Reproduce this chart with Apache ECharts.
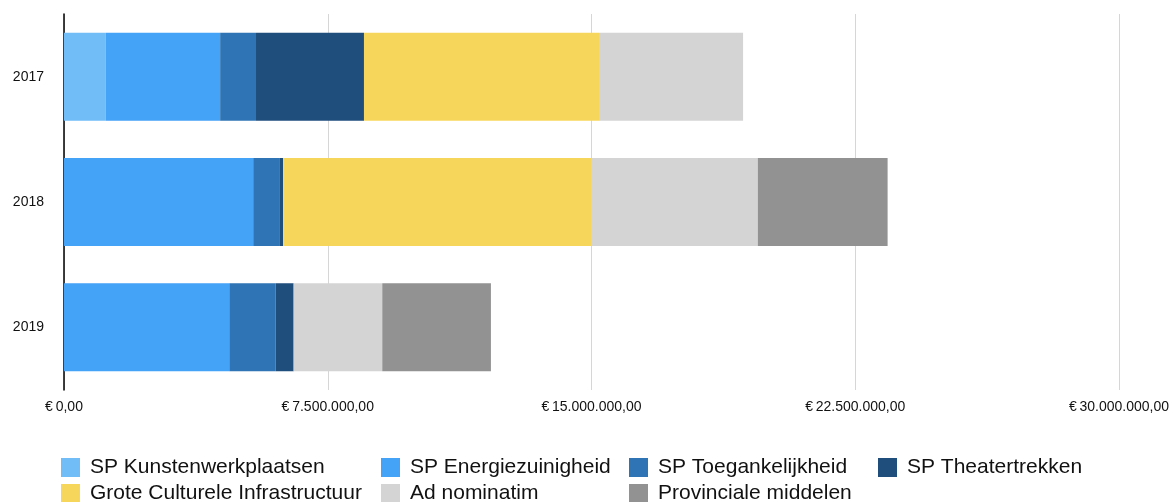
<!DOCTYPE html>
<html>
<head>
<meta charset="utf-8">
<script src="https://cdn.jsdelivr.net/npm/echarts@6/dist/echarts.min.js"></script>
<style>
  html, body { margin: 0; padding: 0; background: #fff; }
  #main { width: 1175px; height: 502px; }
</style>
</head>
<body>
<div id="main"></div>
<script>
// jaren (categorieën)
var years = ['2017', '2018', '2019'];

// bedragen per subsidielijn, in euro
var kunstenwerkplaatsen = [1190000, 0, 0];
var energiezuinigheid = [3250000, 5380000, 4700000];
var toegankelijkheid = [1020000, 760000, 1320000];
var theatertrekken = [3070000, 90000, 510000];
var groteCultureleInfra = [6710000, 8770000, 0];
var adNominatim = [4070000, 4730000, 2520000];
var provincialeMiddelen = [0, 3690000, 3090000];

// waarden op de x-as
var xTicks = [0, 7500000, 15000000, 22500000, 30000000];

var seriesDefs = [
    { name: 'SP Kunstenwerkplaatsen', data: kunstenwerkplaatsen, color: '#70bdf8' },
    { name: 'SP Energiezuinigheid', data: energiezuinigheid, color: '#44a2f7' },
    { name: 'SP Toegankelijkheid', data: toegankelijkheid, color: '#2f75b5' },
    { name: 'SP Theatertrekken', data: theatertrekken, color: '#1f4d7c' },
    { name: 'Grote Culturele Infrastructuur', data: groteCultureleInfra, color: '#f7d75b' },
    { name: 'Ad nominatim', data: adNominatim, color: '#d4d4d4' },
    { name: 'Provinciale middelen', data: provincialeMiddelen, color: '#929292' }
];

// euro-notatie zoals "€ 7.500.000,00"
function euro(v) {
    var parts = Math.round(v).toString().replace(/\B(?=(\d{3})+(?!\d))/g, '.');
    return '€\u2009' + parts + ',00';
}

var myChart = echarts.init(document.getElementById('main'));

var legendText = {
    fontSize: 21,
    color: '#111',
    fontFamily: 'Liberation Sans, Arial, sans-serif',
    padding: [0, 0, 0, 5]
};
// één legenda per kolom, zodat de kolommen uitgelijnd zijn
function legendCol(left, names) {
    return {
        orient: 'vertical',
        left: left,
        top: 457,
        height: 80,
        padding: 0,
        itemWidth: 19,
        itemHeight: 19,
        itemGap: 5,
        icon: 'rect',
        selectedMode: false,
        textStyle: legendText,
        data: names
    };
}

var option = {
    animation: false,
    grid: { left: 64, right: 56, top: 14, bottom: 112, containLabel: false },
    legend: [
        legendCol(61, ['SP Kunstenwerkplaatsen', 'Grote Culturele Infrastructuur']),
        legendCol(381, ['SP Energiezuinigheid', 'Ad nominatim']),
        legendCol(629, ['SP Toegankelijkheid', 'Provinciale middelen']),
        legendCol(878, ['SP Theatertrekken'])
    ],
    xAxis: {
        type: 'value',
        min: xTicks[0],
        max: xTicks[xTicks.length - 1],
        interval: xTicks[1] - xTicks[0],
        axisLine: { show: false },
        axisTick: { show: false },
        splitLine: { show: true, lineStyle: { color: '#d6d6d6', width: 1 } },
        axisLabel: {
            formatter: euro,
            margin: 10,
            fontSize: 14,
            color: '#111',
            fontFamily: 'Liberation Sans, Arial, sans-serif'
        }
    },
    yAxis: {
        type: 'category',
        data: years,
        inverse: true,
        axisLine: { show: true, lineStyle: { color: '#000', width: 1.5 } },
        axisTick: { show: false },
        axisLabel: {
            margin: 20,
            fontSize: 14,
            color: '#111',
            fontFamily: 'Liberation Sans, Arial, sans-serif'
        }
    },
    series: seriesDefs.map(function (s) {
        return {
            name: s.name,
            type: 'bar',
            stack: 'totaal',
            barWidth: 88,
            itemStyle: { color: s.color },
            data: s.data
        };
    })
};

myChart.setOption(option);
</script>
</body>
</html>
